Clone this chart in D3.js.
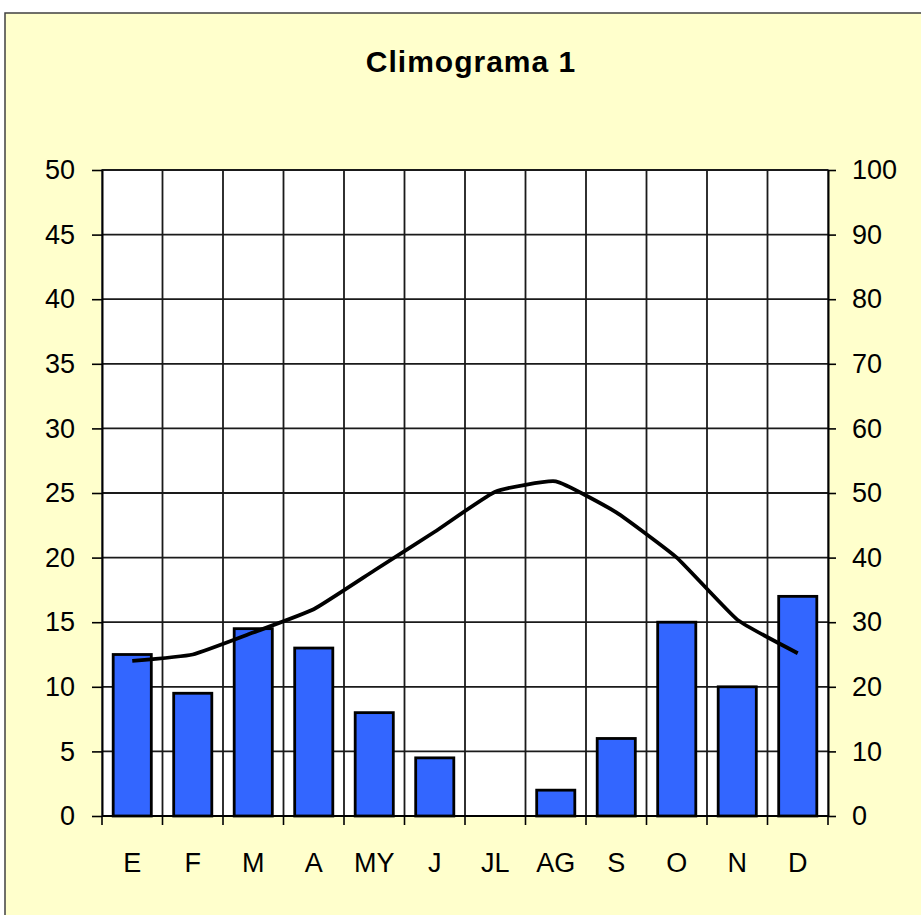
<!DOCTYPE html>
<html>
<head>
<meta charset="utf-8">
<script src="https://cdn.jsdelivr.net/npm/d3@7"></script>
<style>
  body { margin: 0; background: #fff; }
  svg { display: block; }
  text { font-family: "Liberation Sans", Arial, sans-serif; fill: #000; }
</style>
</head>
<body>
<svg id="chart"></svg>
<script>
// months (Spanish abbreviations as in the original)
var months = ["E", "F", "M", "A", "MY", "J", "JL", "AG", "S", "O", "N", "D"];
// precipitation (mm) - bars, right axis
var precip = [25, 19, 29, 26, 16, 9, 0, 4, 12, 30, 20, 34];
// temperature (ºC) - line, left axis
var temp = [12, 12.5, 14.2, 16, 19, 22, 25.1, 25.9, 23.5, 20, 15.2, 12.6];
var leftTicks = [0, 5, 10, 15, 20, 25, 30, 35, 40, 45, 50];
var rightTicks = [0, 10, 20, 30, 40, 50, 60, 70, 80, 90, 100];

var width = 921, height = 915;
var plot = {left: 102, right: 828, top: 170, bottom: 816};

var svg = d3.select("#chart")
  .attr("width", width)
  .attr("height", height);

// chart area background + frame
svg.append("rect")
  .attr("x", 5).attr("y", 13)
  .attr("width", width).attr("height", height)
  .attr("fill", "#ffffcc")
  .attr("stroke", "#404040")
  .attr("stroke-width", 1.5);

svg.append("text")
  .attr("x", 471).attr("y", 72)
  .attr("text-anchor", "middle")
  .attr("font-size", 30)
  .attr("font-weight", "bold")
  .attr("letter-spacing", 1)
  .text("Climograma 1");

var pad = 0.37;
var x = d3.scaleBand()
  .domain(months)
  .range([plot.left, plot.right])
  .paddingInner(pad)
  .paddingOuter(pad / 2);
var step = x.step();

var yLeft = d3.scaleLinear().domain([0, 50]).range([plot.bottom, plot.top]);
var yRight = d3.scaleLinear().domain([0, 100]).range([plot.bottom, plot.top]);

// plot area
svg.append("rect")
  .attr("x", plot.left).attr("y", plot.top)
  .attr("width", plot.right - plot.left)
  .attr("height", plot.bottom - plot.top)
  .attr("fill", "#fff")
  .attr("stroke", "#8c8c8c")
  .attr("stroke-width", 2);

// horizontal gridlines
svg.append("g")
  .selectAll("line")
  .data(leftTicks.slice(1))
  .enter()
  .append("line")
  .attr("x1", plot.left).attr("x2", plot.right)
  .attr("y1", function(d) { return yLeft(d); })
  .attr("y2", function(d) { return yLeft(d); })
  .attr("stroke", "#1a1a1a")
  .attr("stroke-width", 1.8);

// vertical gridlines at category boundaries
var bounds = months.map(function(m) { return x(m) - step * pad / 2; });
svg.append("g")
  .selectAll("line")
  .data(bounds.slice(1))
  .enter()
  .append("line")
  .attr("x1", function(d) { return d; })
  .attr("x2", function(d) { return d; })
  .attr("y1", plot.top).attr("y2", plot.bottom)
  .attr("stroke", "#1a1a1a")
  .attr("stroke-width", 1.8);

// bars (precipitation, right axis)
svg.append("g")
  .selectAll("rect")
  .data(precip)
  .enter()
  .append("rect")
  .attr("x", function(d, i) { return x(months[i]); })
  .attr("width", x.bandwidth())
  .attr("y", function(d) { return yRight(d); })
  .attr("height", function(d) { return plot.bottom - yRight(d); })
  .attr("fill", function(d) { return d > 0 ? "#3366ff" : "none"; })
  .attr("stroke", function(d) { return d > 0 ? "#000" : "none"; })
  .attr("stroke-width", 2.8);

// temperature line (left axis)
var line = d3.line()
  .x(function(d, i) { return x(months[i]) + x.bandwidth() / 2; })
  .y(function(d) { return yLeft(d); })
  .curve(d3.curveCardinal.tension(0.6));

svg.append("path")
  .datum(temp)
  .attr("d", line)
  .attr("fill", "none")
  .attr("stroke", "#000")
  .attr("stroke-width", 3.8)
  .attr("stroke-linejoin", "round");

// left axis
var leftAxis = svg.append("g")
  .attr("transform", "translate(" + plot.left + ",0)")
  .call(d3.axisLeft(yLeft).tickValues(leftTicks).tickSize(10).tickPadding(17).tickSizeOuter(0));

// right axis
var rightAxis = svg.append("g")
  .attr("transform", "translate(" + plot.right + ",0)")
  .call(d3.axisRight(yRight).tickValues(rightTicks).tickSize(8).tickPadding(16).tickSizeOuter(0));

// bottom axis: ticks at boundaries, labels centered
var bottom = svg.append("g");
bottom.append("line")
  .attr("x1", plot.left).attr("x2", plot.right)
  .attr("y1", plot.bottom).attr("y2", plot.bottom)
  .attr("stroke", "#000").attr("stroke-width", 2);
bottom.selectAll("line.tk")
  .data(bounds.concat([plot.right]))
  .enter()
  .append("line")
  .attr("class", "tk")
  .attr("x1", function(d) { return d; })
  .attr("x2", function(d) { return d; })
  .attr("y1", plot.bottom).attr("y2", plot.bottom + 9)
  .attr("stroke", "#000").attr("stroke-width", 1.6);
bottom.selectAll("text")
  .data(months)
  .enter()
  .append("text")
  .attr("x", function(d) { return x(d) + x.bandwidth() / 2; })
  .attr("y", 872)
  .attr("text-anchor", "middle")
  .attr("font-size", 27)
  .text(function(d) { return d; });

[leftAxis, rightAxis].forEach(function(a) {
  a.select(".domain").attr("stroke", "#000").attr("stroke-width", 2);
  a.selectAll(".tick line").attr("stroke", "#000").attr("stroke-width", 1.6);
  a.selectAll(".tick text").attr("font-size", 27).attr("font-family", "Liberation Sans, Arial, sans-serif").attr("fill", "#000");
});
</script>
</body>
</html>
